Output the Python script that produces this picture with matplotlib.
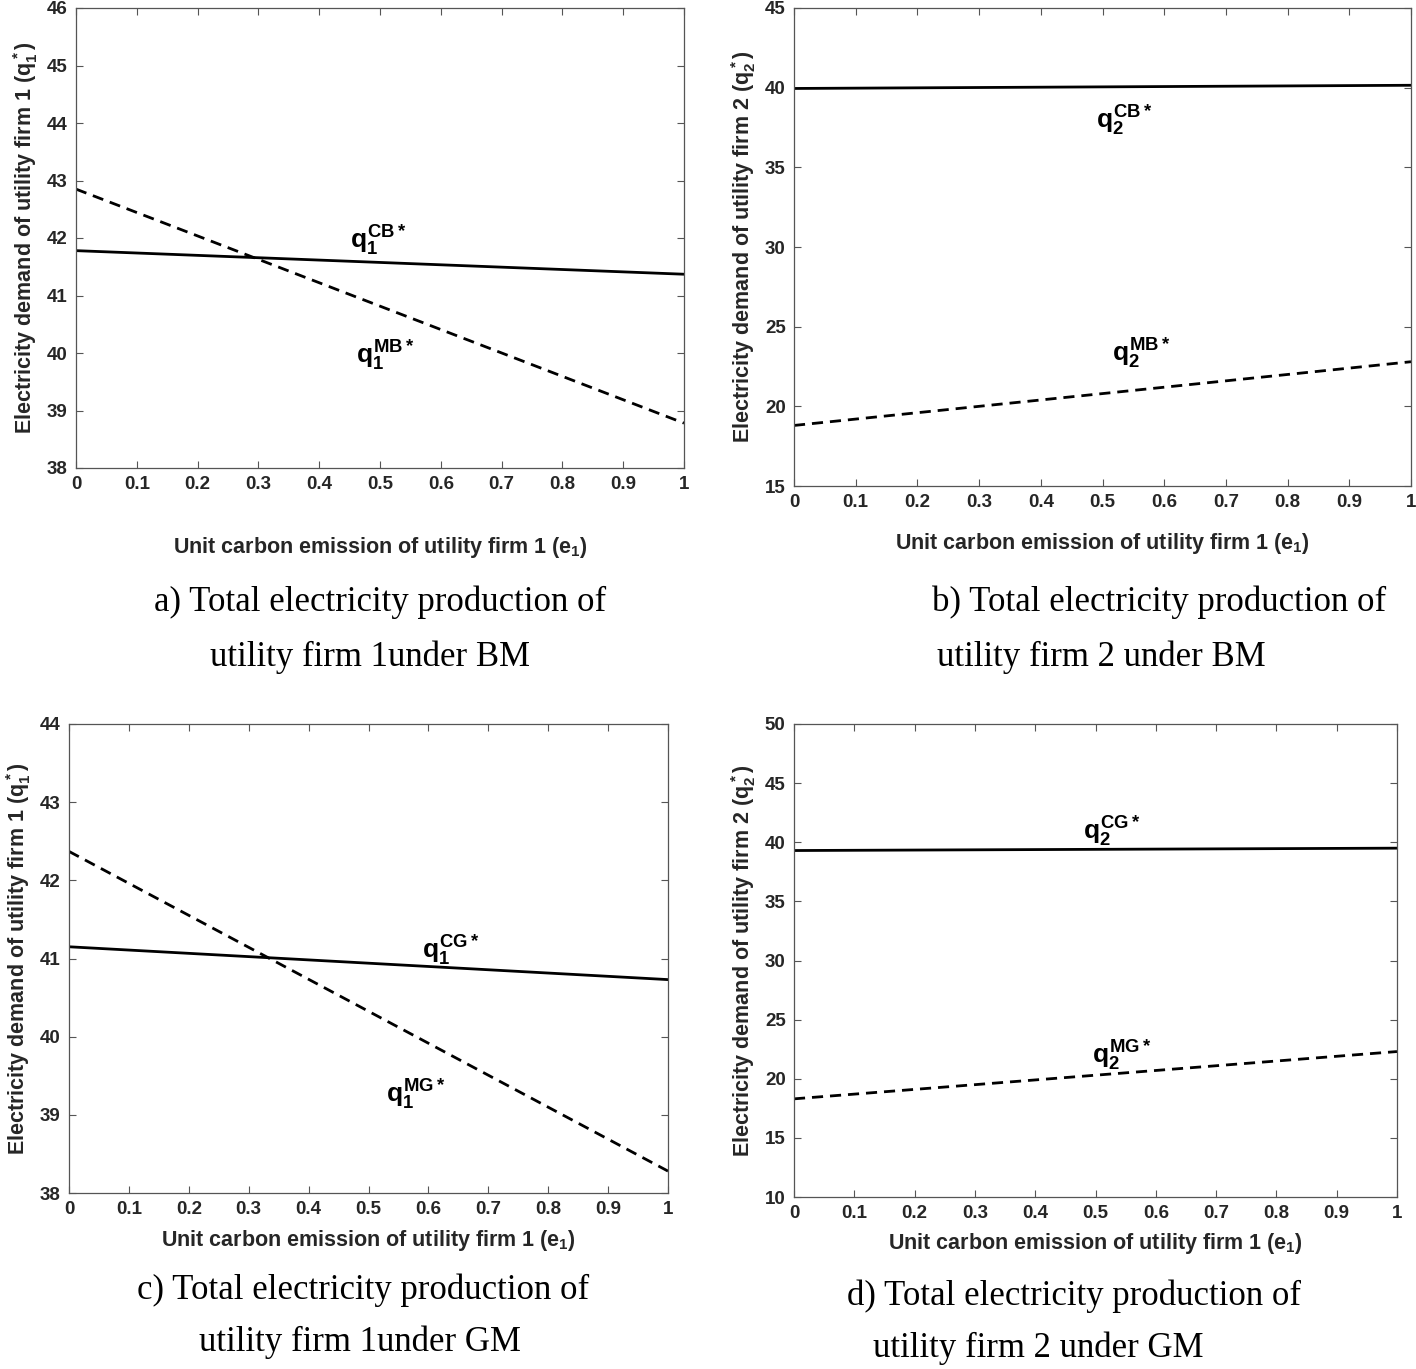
import matplotlib
matplotlib.use("Agg")
import matplotlib.pyplot as plt

plt.rcParams["font.family"] = "Liberation Sans"
plt.rcParams["font.weight"] = "bold"
plt.rcParams["axes.labelweight"] = "bold"
plt.rcParams["mathtext.fontset"] = "custom"
plt.rcParams["mathtext.rm"] = "Liberation Sans:bold"
plt.rcParams["mathtext.it"] = "Liberation Sans:bold"
plt.rcParams["mathtext.bf"] = "Liberation Sans:bold"

# data (lines are straight, so endpoints)
e1 = [0, 1]
q1_cb = [41.78, 41.37]
q1_mb = [42.85, 38.78]
q2_cb = [39.95, 40.15]
q2_mb = [18.8, 22.8]
q1_cg = [41.15, 40.73]
q1_mg = [42.37, 38.28]
q2_cg = [39.3, 39.5]
q2_mg = [18.3, 22.3]

xticks = [0, 0.1, 0.2, 0.3, 0.4, 0.5, 0.6, 0.7, 0.8, 0.9, 1]
xticklabels = ["0", "0.1", "0.2", "0.3", "0.4", "0.5", "0.6", "0.7", "0.8", "0.9", "1"]

W, H = 1416, 1369
fig = plt.figure(figsize=(W / 100, H / 100), dpi=100)
txt = "#262626"


def px_axes(x0, y0, x1, y1):
    return fig.add_axes([x0 / W, 1 - y1 / H, (x1 - x0) / W, (y1 - y0) / H])


def style(ax, ylim, ystep, ylabel, xpad=14):
    ax.set_xlim(0, 1)
    ax.set_ylim(*ylim)
    ax.set_xticks(xticks)
    ax.set_xticklabels(xticklabels)
    ax.set_yticks(range(ylim[0], ylim[1] + 1, ystep))
    ax.tick_params(direction="in", top=True, right=True, length=5, width=0.8,
                   labelsize=13.5, colors="#555555", labelcolor=txt, pad=6)
    for s in ax.spines.values():
        s.set_color("#555555")
        s.set_linewidth(0.9)
    ax.set_xlabel("Unit carbon emission of utility firm 1 ($e_1$)",
                  fontsize=15.5, color=txt, labelpad=xpad)
    ax.set_ylabel(ylabel, fontsize=15.5, color=txt, labelpad=5)


lab1 = "Electricity demand of utility firm 1 ($q_1^*$)"
lab2 = "Electricity demand of utility firm 2 ($q_2^*$)"
dash = (0, (4, 2.5))
fs = 19

# a)
ax = px_axes(76, 8, 684, 468)
ax.plot(e1, q1_cb, color="black", lw=2)
ax.plot(e1, q1_mb, color="black", lw=2, linestyle=dash)
style(ax, (38, 46), 1, lab1, xpad=30)
ax.text(0.45, 41.95, "$q_1^{CB*}$", fontsize=fs, color="black", va="center")
ax.text(0.46, 39.95, "$q_1^{MB*}$", fontsize=fs, color="black", va="center")

# b)
ax = px_axes(794, 8, 1411, 486)
ax.plot(e1, q2_cb, color="black", lw=2)
ax.plot(e1, q2_mb, color="black", lw=2, linestyle=dash)
style(ax, (15, 45), 5, lab2)
ax.text(0.49, 37.9, "$q_2^{CB*}$", fontsize=fs, color="black", va="center")
ax.text(0.515, 23.3, "$q_2^{MB*}$", fontsize=fs, color="black", va="center")

# c)
ax = px_axes(69, 724, 668, 1193)
ax.plot(e1, q1_cg, color="black", lw=2)
ax.plot(e1, q1_mg, color="black", lw=2, linestyle=dash)
style(ax, (38, 44), 1, lab1, xpad=7)
ax.text(0.59, 41.1, "$q_1^{CG*}$", fontsize=fs, color="black", va="center")
ax.text(0.53, 39.25, "$q_1^{MG*}$", fontsize=fs, color="black", va="center")

# d)
ax = px_axes(794, 724, 1397, 1197)
ax.plot(e1, q2_cg, color="black", lw=2)
ax.plot(e1, q2_mg, color="black", lw=2, linestyle=dash)
style(ax, (10, 50), 5, lab2, xpad=6)
ax.text(0.48, 40.9, "$q_2^{CG*}$", fontsize=fs, color="black", va="center")
ax.text(0.495, 21.9, "$q_2^{MG*}$", fontsize=fs, color="black", va="center")

# captions
cap = dict(fontsize=25, family="Liberation Serif", fontweight="normal", color="black", va="center")
fig.text(380 / W, 1 - 602 / H, "a) Total electricity production of", ha="center", **cap)
fig.text(370 / W, 1 - 657 / H, "utility firm 1under BM", ha="center", **cap)
fig.text(1159 / W, 1 - 602 / H, "b) Total electricity production of", ha="center", **cap)
fig.text(1101 / W, 1 - 657 / H, "utility firm 2 under BM", ha="center", **cap)
fig.text(363 / W, 1 - 1290 / H, "c) Total electricity production of", ha="center", **cap)
fig.text(360 / W, 1 - 1342 / H, "utility firm 1under GM", ha="center", **cap)
fig.text(1074 / W, 1 - 1296 / H, "d) Total electricity production of", ha="center", **cap)
fig.text(1038 / W, 1 - 1348 / H, "utility firm 2 under GM", ha="center", **cap)

fig.savefig("out.png", dpi=100, facecolor="white")
